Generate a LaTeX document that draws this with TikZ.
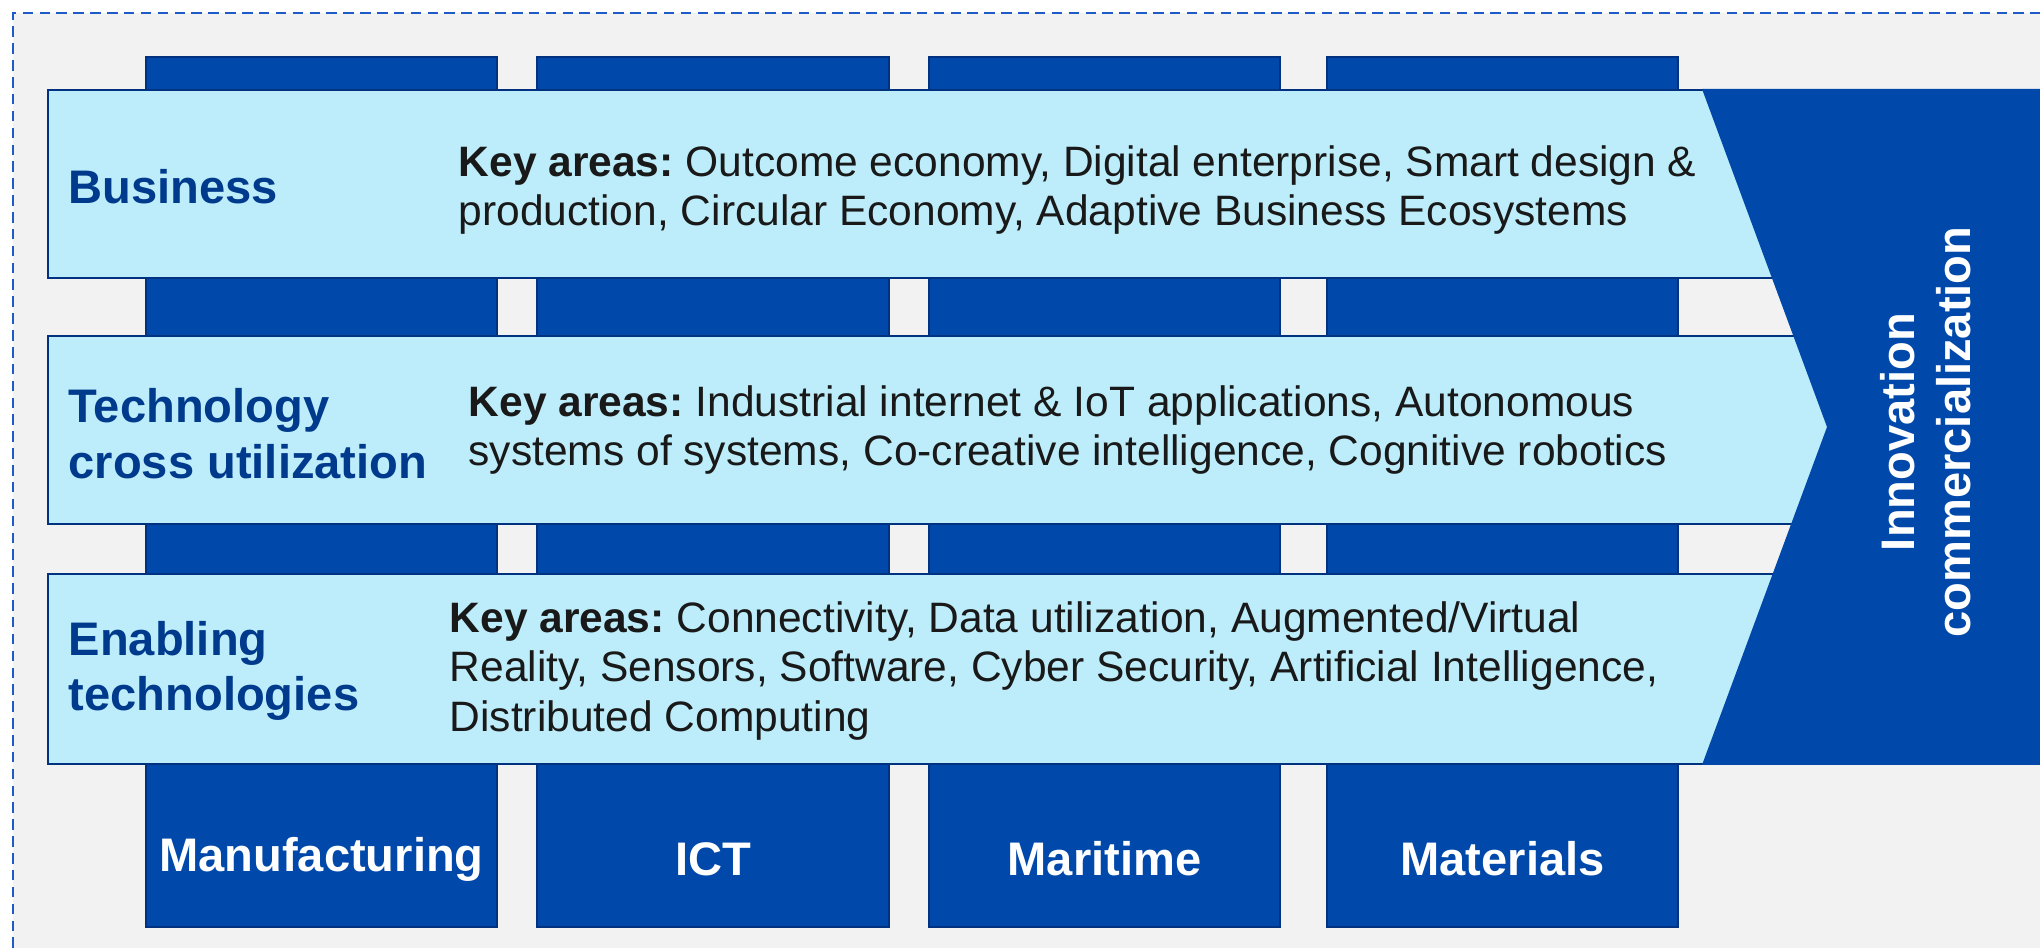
\documentclass[tikz,border=0pt]{standalone}
\usepackage{fontspec}
\setmainfont{Liberation Sans}
\definecolor{fond}{RGB}{242,242,242}
\definecolor{cobalt}{RGB}{0,72,170}
\definecolor{cobaltdark}{RGB}{0,50,128}
\definecolor{ciel}{RGB}{189,237,250}
\definecolor{titre}{RGB}{0,58,140}
\definecolor{pointille}{RGB}{30,90,200}

\begin{document}
\frenchspacing
\begin{tikzpicture}[x=1cm,y=1cm,
  lab/.style={inner sep=0pt, anchor=west, align=left, text=titre, font=\fontsize{13.4}{15.9}\selectfont\bfseries},
  cle/.style={inner sep=0pt, anchor=west, align=left, text=black!90, font=\fontsize{12.1}{14}\selectfont},
  secteur/.style={inner sep=0pt, text=white, font=\fontsize{13.4}{16}\selectfont\bfseries}]
\useasboundingbox (0,0) rectangle (20.4,9.48);
\clip (0,0) rectangle (20.4,9.48);
\fill[fond] (0.13,0) rectangle (20.4,9.35);
\draw[pointille, line width=0.7pt, dash pattern=on 3pt off 1.8pt] (0.13,0)--(0.13,9.35)--(20.4,9.35);

% colonnes
\filldraw[draw=cobaltdark,fill=cobalt,line width=0.5pt] (1.46,0.21) rectangle (4.97,8.91);
\filldraw[draw=cobaltdark,fill=cobalt,line width=0.5pt] (5.37,0.21) rectangle (8.89,8.91);
\filldraw[draw=cobaltdark,fill=cobalt,line width=0.5pt] (9.29,0.21) rectangle (12.80,8.91);
\filldraw[draw=cobaltdark,fill=cobalt,line width=0.5pt] (13.27,0.21) rectangle (16.78,8.91);

% bandes
\filldraw[draw=cobaltdark,fill=ciel,line width=0.6pt] (0.48,6.70) rectangle (18.4,8.58);
\filldraw[draw=cobaltdark,fill=ciel,line width=0.6pt] (0.48,4.24) rectangle (18.4,6.12);
\filldraw[draw=cobaltdark,fill=ciel,line width=0.6pt] (0.48,1.84) rectangle (18.4,3.74);

% fleche
\fill[cobalt] (17.02,8.59)--(18.27,5.21)--(17.02,1.83)--(20.5,1.83)--(20.5,8.59)--cycle;

\node[lab] (business) at (0.68,7.61) {Business};
\node[lab] (techno) at (0.68,5.14) {Technology\\cross utilization};
\node[lab] (enabling) at (0.68,2.77) {Enabling\\technologies};

\node[cle] (cle1) at (4.58,7.58) {\textbf{Key areas:} Outcome economy, Digital enterprise, Smart design \&\\production, Circular Economy, Adaptive Business Ecosystems};
\node[cle] (cle2) at (4.68,5.18) {\textbf{Key areas:} Industrial internet \& IoT applications, Autonomous\\systems of systems, Co-creative intelligence, Cognitive robotics};
\node[cle] (cle3) at (4.49,2.77) {\textbf{Key areas:} Connectivity, Data utilization, Augmented/Virtual\\Reality, Sensors, Software, Cyber Security, Artificial Intelligence,\\Distributed Computing};

\node[secteur, rotate=90, align=center] (innov) at (19.26,5.16) {Innovation\\commercialization};

\node[secteur] (manuf) at (3.215,0.89) {Manufacturing};
\node[secteur] (ict) at (7.13,0.89) {ICT};
\node[secteur] (maritime) at (11.045,0.89) {Maritime};
\node[secteur] (materials) at (15.025,0.89) {Materials};

\end{tikzpicture}
\end{document}
